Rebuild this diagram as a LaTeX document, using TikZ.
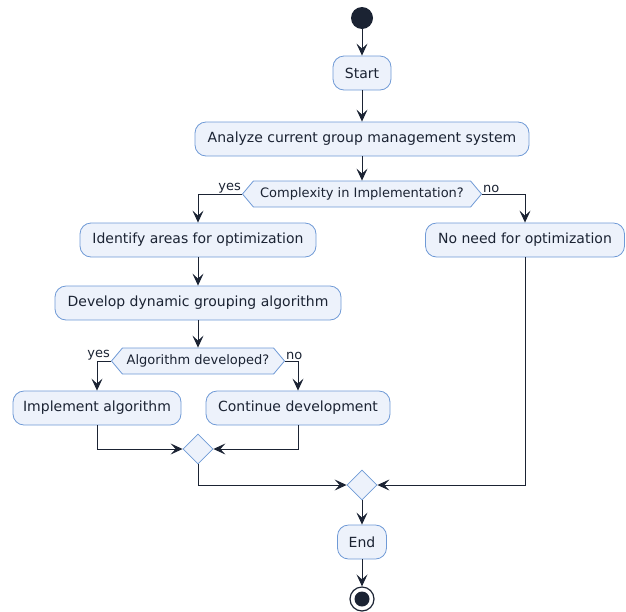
\documentclass[tikz,border=0pt]{standalone}
\usepackage{fontspec}
\setmainfont{DejaVu Sans}
\usetikzlibrary{arrows.meta,shapes.symbols,shapes.geometric}
\definecolor{actfill}{HTML}{EDF2FB}
\definecolor{actline}{HTML}{6F9AD6}
\definecolor{ink}{HTML}{1B2333}

\begin{document}
\begin{tikzpicture}[x=1pt,y=-1pt,
  act/.style={draw=actline,fill=actfill,rounded corners=11pt,minimum height=34pt,
    line width=0.8pt,text=ink,font=\fontsize{14}{16}\selectfont},
  cond/.style={draw=actline,fill=actfill,signal,signal to=west and east,
    signal pointer angle=100,minimum height=26pt,inner xsep=3pt,line width=0.8pt,
    text=ink,font=\fontsize{13}{15}\selectfont},
  merge/.style={draw=actline,fill=actfill,diamond,minimum size=30pt,inner sep=0pt,line width=0.8pt},
  flow/.style={draw=ink,line width=1pt,-{Stealth[length=12pt,width=11pt,inset=5pt]}},
  lbl/.style={text=ink,inner sep=1pt,font=\fontsize{13}{15}\selectfont}]
\useasboundingbox (0,0) rectangle (626,611);

\node[circle,fill=ink,minimum size=22pt,inner sep=0pt] (init) at (362,18) {};
\node[act,minimum width=58pt] (start) at (362,73) {Start};
\node[act,minimum width=334pt] (analyze) at (362,139) {Analyze current group management system};
\node[cond,minimum width=239pt] (complex) at (362,194) {Complexity in Implementation?};
\node[act,minimum width=236pt] (identify) at (198,240) {Identify areas for optimization};
\node[act,minimum width=199pt] (noneed) at (525,240) {No need for optimization};
\node[act,minimum width=286pt] (develop) at (198,303) {Develop dynamic grouping algorithm};
\node[cond,minimum width=173pt] (developed) at (198,361) {Algorithm developed?};
\node[act,minimum width=168pt] (implement) at (97,408) {Implement algorithm};
\node[act,minimum width=184pt] (continue) at (298,408) {Continue development};
\node[merge] (joinA) at (198,449) {};
\node[merge] (joinB) at (362,485) {};
\node[act,minimum width=49pt] (end) at (362,542) {End};
\node[circle,draw=ink,line width=1.2pt,fill=white,minimum size=24pt,inner sep=0pt] (final) at (362,599) {};
\fill[ink] (final.center) circle (7.5pt);

% flow
\draw[flow] (init) -- (start);
\draw[flow] (start) -- (analyze);
\draw[flow] (analyze.south) -- (complex.north);
\draw[flow] (complex.west) -| (identify.north);
\draw[flow] (complex.east) -| (noneed.north);
\node[lbl,anchor=south east] at (complex.west) {yes};
\node[lbl,anchor=south west] at (complex.east) {no};
\draw[flow] (identify) -- (develop);
\draw[flow] (develop.south) -- (developed.north);
\draw[flow] (developed.west) -| (implement.north);
\draw[flow] (developed.east) -| (continue.north);
\node[lbl,anchor=south east] at (developed.west) {yes};
\node[lbl,anchor=south west] at (developed.east) {no};
\draw[flow] (implement.south) |- (joinA.west);
\draw[flow] (continue.south) |- (joinA.east);
\draw[flow] (joinA.south) |- (joinB.west);
\draw[flow] (noneed.south) |- (joinB.east);
\draw[flow] (joinB) -- (end);
\draw[flow] (end) -- (final);
\end{tikzpicture}
\end{document}
